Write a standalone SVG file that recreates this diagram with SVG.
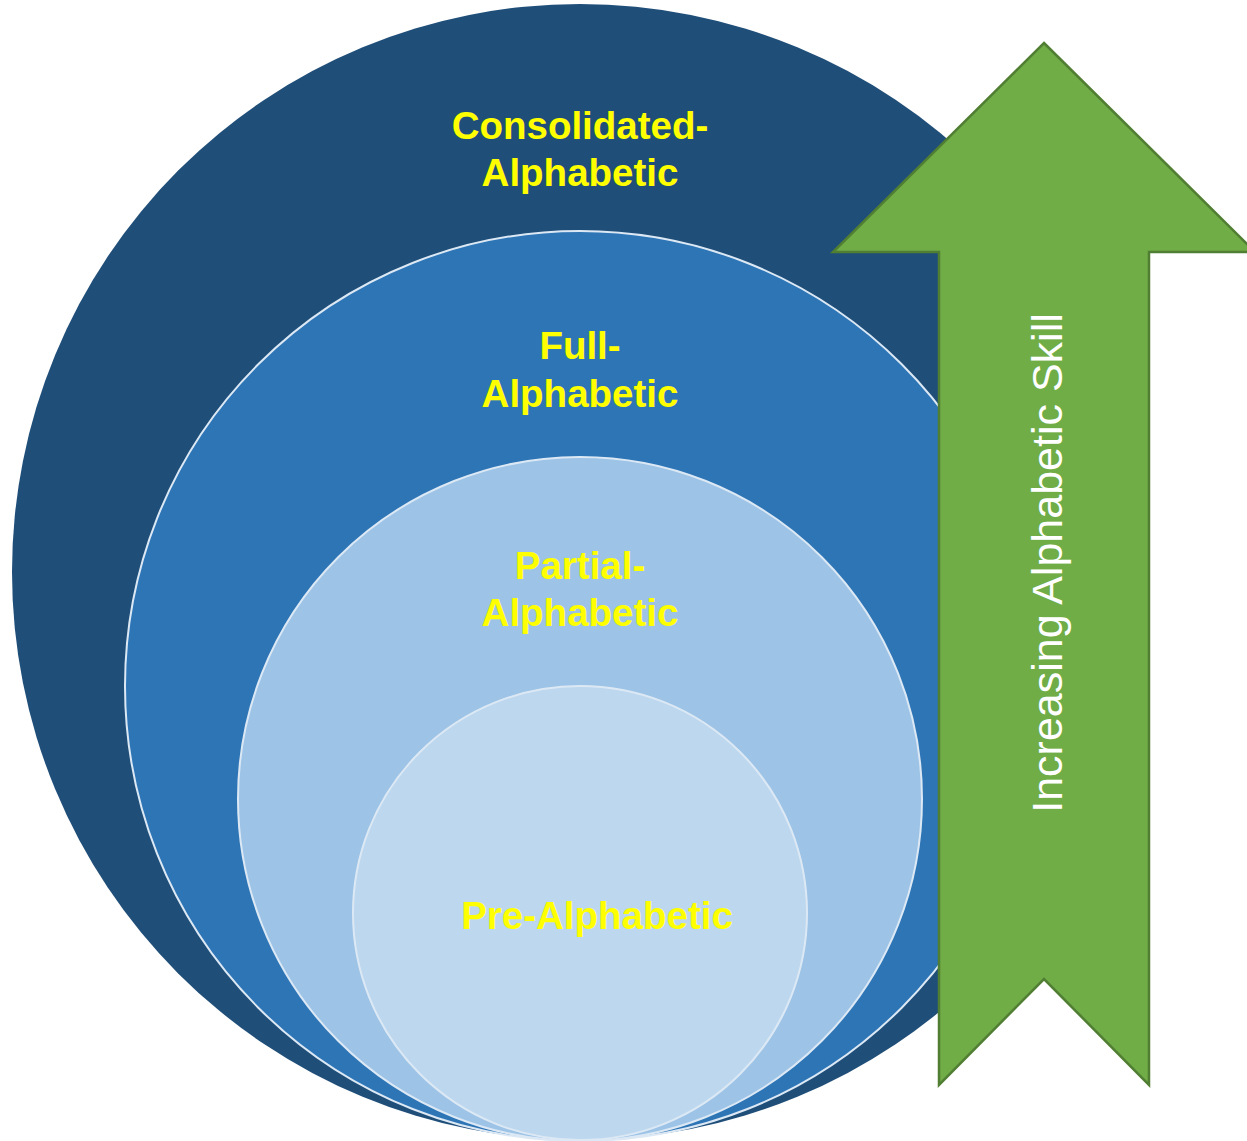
<svg xmlns="http://www.w3.org/2000/svg" width="1247" height="1141" viewBox="0 0 1247 1141">
<style>
.lbl{font-family:"Liberation Sans",Arial,sans-serif;font-weight:bold;font-size:38.5px;fill:#FFFF00;text-anchor:middle}
.ring{stroke:#DCE9F5;stroke-width:2}
.arrowtxt{font-family:"Liberation Sans",Arial,sans-serif;font-size:43px;fill:#FFFFFF;text-anchor:middle}
</style>
<rect width="1247" height="1141" fill="#FFFFFF"/>
<g id="consolidated">
<circle cx="580" cy="572" r="568" fill="#1F4E79"/>
<text class="lbl" x="580" y="139">Consolidated-</text>
<text class="lbl" x="580" y="186">Alphabetic</text>
</g>
<g id="full">
<circle class="ring" cx="580" cy="686" r="455" fill="#2E75B6"/>
<text class="lbl" x="580" y="359">Full-</text>
<text class="lbl" x="580" y="407">Alphabetic</text>
</g>
<g id="partial">
<circle class="ring" cx="580" cy="799" r="342" fill="#9DC3E6"/>
<text class="lbl" x="580" y="579">Partial-</text>
<text class="lbl" x="580" y="626">Alphabetic</text>
</g>
<g id="pre">
<circle class="ring" cx="580" cy="913" r="227" fill="#BDD7EE"/>
<text class="lbl" x="597" y="929">Pre-Alphabetic</text>
</g>
<g id="arrow">
<polygon points="1044,43 1255,252 1149,252 1149,1085 1044,979 939,1085 939,252 833,252" fill="#70AD47" stroke="#507E32" stroke-width="2.5" stroke-linejoin="miter"/>
<text class="arrowtxt" transform="translate(1062,563) rotate(-90)" x="0" y="0">Increasing Alphabetic Skill</text>
</g>
</svg>
